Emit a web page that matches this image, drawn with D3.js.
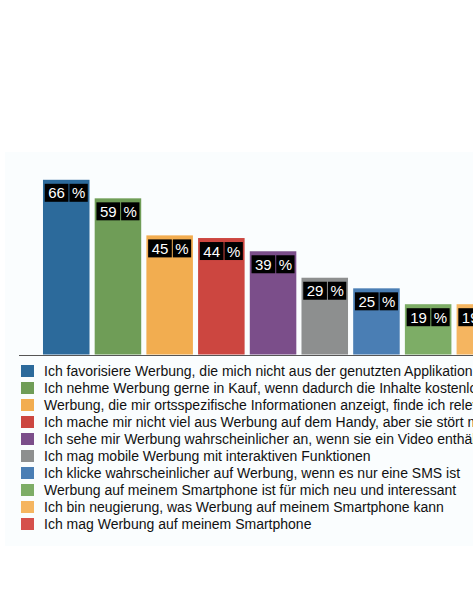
<!DOCTYPE html>
<html><head><meta charset="utf-8">
<script src="https://cdn.jsdelivr.net/npm/d3@7"></script>
<style>html,body{margin:0;padding:0;background:#fff;overflow:hidden}</style>
</head><body>
<svg id="c" width="473" height="612"></svg>
<script>
const categories = [
  "Ich favorisiere Werbung, die mich nicht aus der genutzten Applikation herausführt",
  "Ich nehme Werbung gerne in Kauf, wenn dadurch die Inhalte kostenlos sind",
  "Werbung, die mir ortsspezifische Informationen anzeigt, finde ich relevant",
  "Ich mache mir nicht viel aus Werbung auf dem Handy, aber sie stört mich nicht",
  "Ich sehe mir Werbung wahrscheinlicher an, wenn sie ein Video enthält",
  "Ich mag mobile Werbung mit interaktiven Funktionen",
  "Ich klicke wahrscheinlicher auf Werbung, wenn es nur eine SMS ist",
  "Werbung auf meinem Smartphone ist für mich neu und interessant",
  "Ich bin neugierung, was Werbung auf meinem Smartphone kann",
  "Ich mag Werbung auf meinem Smartphone"
];
const values = [66, 59, 45, 44, 39, 29, 25, 19, 19, 16];
const colors = ["#2c6a9b","#6f9d57","#f2ad50","#cc4640","#7b4e8a","#8d8f8f","#4a7eb4","#7dad66","#f5b560","#d5504c"];

const svg = d3.select("#c");
svg.append("rect").attr("x",5).attr("y",152).attr("width",468).attr("height",394).attr("fill","#fafdfe");

const x = d3.scaleBand().domain(d3.range(categories.length))
  .range([40.4, 40.4 + 51.7*10]).paddingInner(0.1).paddingOuter(0.05);
const y = d3.scaleLinear().domain([0,100]).range([354.5, 89.8]);

const g = svg.append("g");
g.selectAll("rect.bar").data(values).join("rect").attr("class","bar")
  .attr("x",(d,i)=>x(i)).attr("width",x.bandwidth())
  .attr("y",d=>y(d)).attr("height",d=>y(0)-y(d))
  .attr("fill",(d,i)=>colors[i]);

// axis baseline
const xAxis = d3.axisBottom(x).tickSize(0).tickFormat("");
svg.append("g").attr("transform",`translate(0,${y(0)+1})`).call(xAxis)
  .call(a=>a.select(".domain").attr("d","M19,0H473").attr("stroke","#555").attr("stroke-width",1.2));

// labels
const font = "'Liberation Sans', Arial, Helvetica, sans-serif";
values.forEach((v,i)=>{
  const cx = x(i) + x.bandwidth()/2;
  const top = y(v) + 4;
  const lg = svg.append("g");
  const t1 = lg.append("text").text(String(v)).attr("font-family",font).attr("font-size",15).attr("fill","#fff");
  const t2 = lg.append("text").text("%").attr("font-family",font).attr("font-size",15).attr("fill","#fff");
  const w1 = t1.node().getComputedTextLength() + 7;
  const w2 = t2.node().getComputedTextLength() + 5;
  const total = w1 + 1 + w2;
  const x0 = cx - total/2;
  lg.insert("rect","text").attr("x",x0).attr("y",top).attr("width",w1).attr("height",18).attr("fill","#000");
  lg.insert("rect","text").attr("x",x0+w1+1).attr("y",top).attr("width",w2).attr("height",18).attr("fill","#000");
  t1.attr("x",x0+w1/2).attr("y",top+14.5).attr("text-anchor","middle");
  t2.attr("x",x0+w1+1+w2/2).attr("y",top+14.5).attr("text-anchor","middle");
});

// legend
const leg = svg.append("g");
categories.forEach((c,i)=>{
  const by = 376 + i*17;
  leg.append("rect").attr("x",21).attr("y",by-11).attr("width",13).attr("height",12).attr("fill",colors[i]);
  leg.append("text").attr("x",44).attr("y",by).text(c)
    .attr("font-family",font).attr("font-size",14).attr("fill","#111");
});
</script>
</body></html>
